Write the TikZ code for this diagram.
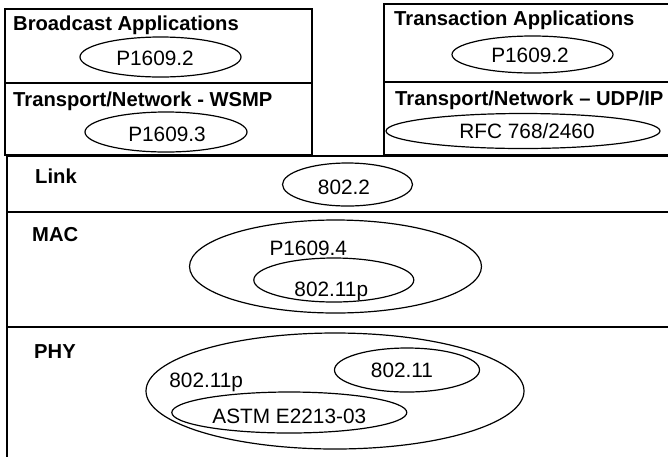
\documentclass[tikz,border=0pt]{standalone}
\usepackage{fontspec}
\setmainfont{Liberation Sans}
\usetikzlibrary{shapes.geometric}

\tikzset{
    layer/.style={line width=1.8pt},
    ring/.style={ellipse, draw, line width=1.2pt, inner sep=0pt},
    head/.style={anchor=base west, inner sep=0pt, font=\fontsize{20.2}{24}\selectfont\bfseries},
    std/.style={anchor=base, inner sep=0pt, font=\fontsize{20.8}{25}\selectfont},
}

\begin{document}
\begin{tikzpicture}[x=1pt, y=-1pt]
    \useasboundingbox (0,0) rectangle (668,456);
    \clip (0,0) rectangle (668,456);

    % upper stack, two columns
    \draw[layer] (5,9) rectangle (312,83);
    \draw[layer] (5,83) rectangle (312,155);
    \draw[layer] (384,4) rectangle (690,82);
    \draw[layer] (384,82) rectangle (690,155);

    % lower layers run the full width
    \draw[layer] (7,156) rectangle (690,212);
    \draw[layer] (7,212) rectangle (690,327);
    \draw[layer] (7,327) rectangle (690,480);

    \node[head] (bcast) at (13,30.5) {Broadcast Applications};
    \node[ring, minimum width=161pt, minimum height=40pt] (bcastring) at (160.5,57) {};
    \node[std] (bcastid) at (155,65) {P1609.2};

    \node[head] (wsmp) at (13,106) {Transport/Network - WSMP};
    \node[ring, minimum width=162pt, minimum height=40pt] (wsmpring) at (166,132) {};
    \node[std] (wsmpid) at (167,141.5) {P1609.3};

    \node[head] (trans) at (394,25) {Transaction Applications};
    \node[ring, minimum width=161pt, minimum height=37pt] (transring) at (532.5,54.5) {};
    \node[std] (transid) at (530,62) {P1609.2};

    \node[head] (udp) at (395,105) {Transport/Network -- UDP/IP};
    \node[ring, minimum width=274pt, minimum height=35pt] (udpring) at (523,131) {};
    \node[std] (udpid) at (527,138) {RFC 768/2460};

    \node[head] (link) at (35,183.3) {Link};
    \node[ring, minimum width=130pt, minimum height=43pt] (linkring) at (347.5,184.5) {};
    \node[std] (linkid) at (344,194.3) {802.2};

    \node[head] (mac) at (32,241.7) {MAC};
    \node[ring, minimum width=292pt, minimum height=93pt] (macring) at (335.5,266.5) {};
    \node[std] (macid) at (308.3,255) {P1609.4};
    \node[ring, minimum width=160pt, minimum height=44pt] (wavering) at (333.8,280) {};
    \node[std] (waveid) at (331.3,296.5) {802.11p};

    \node[head] (phy) at (34,358.3) {PHY};
    \node[ring, minimum width=378pt, minimum height=116pt] (phyring) at (335,391) {};
    \node[std] (phyid) at (206.2,387.3) {802.11p};
    \node[ring, minimum width=145pt, minimum height=44pt] (wifiring) at (407,370) {};
    \node[std] (wifiid) at (402,377.3) {802.11};
    \node[ring, minimum width=235pt, minimum height=41pt] (astmring) at (289.3,412.5) {};
    \node[std] (astmid) at (289.3,423.3) {ASTM E2213-03};
\end{tikzpicture}
\end{document}
